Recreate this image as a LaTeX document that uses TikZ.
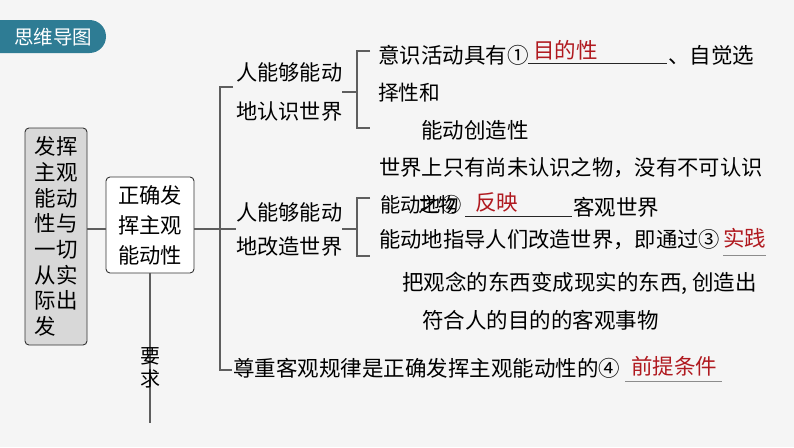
\documentclass[tikz,border=0pt]{standalone}
\usepackage{fontspec}
\newfontfamily\cjk{Noto Sans CJK SC}
\usetikzlibrary{positioning}
\definecolor{tabteal}{HTML}{2E7C94}
\definecolor{ansred}{HTML}{B0191F}
\definecolor{linegray}{HTML}{5E5E5E}
\definecolor{boxgray}{HTML}{D8D8D8}
\definecolor{paper}{HTML}{F5F5F5}

\begin{document}
\begin{tikzpicture}[x=1pt,y=-1pt,
	txt/.style={anchor=west,inner sep=0pt,font=\cjk\fontsize{21.5}{26}\selectfont},
	ans/.style={txt,text=ansred},
	conn/.style={draw=linegray,line width=1.1pt},
	uline/.style={draw=black!85,line width=0.9pt},
	mainbox/.style={draw=black!80,line width=0.9pt,rounded corners=4pt,inner sep=0pt}]
	\fill[paper] (0,0) rectangle (794,447);
	\useasboundingbox (0,0) rectangle (794,447);
	% title tab
	\begin{scope}
		\clip (0,0) rectangle (794,447);
		\fill[tabteal,rounded corners=16.5pt] (-30,20) rectangle (106,53);
	\end{scope}
	\node[inner sep=0pt,text=white,font=\cjk\fontsize{19.5}{22}\selectfont] (title) at (53,37) {思维导图};
	% boxes
	\node[mainbox,fill=boxgray,minimum width=62pt,minimum height=217pt,align=left,
		font=\cjk\fontsize{21.5}{25.7}\selectfont] (main) at (56,236.5)
		{发挥\\主观\\能动\\性与\\一切\\从实\\际出\\发};
	\node[mainbox,fill=white,minimum width=88pt,minimum height=96pt,align=center,
		font=\cjk\fontsize{21.3}{30}\selectfont] (ability) at (150,225)
		{正确发\\挥主观\\能动性};
	\coordinate (reqend) at (150,423);
	\draw[conn] (ability.south) -- (reqend);
	\node[inner sep=0pt,align=center,font=\cjk\fontsize{20}{23.5}\selectfont] (req) at (150,368) {要\\求};
	% branches
	\node[txt,align=left,font=\cjk\fontsize{21.2}{39}\selectfont] (know) at (236,92) {人能够能动\\地认识世界};
	\node[txt,align=left,font=\cjk\fontsize{21.2}{34}\selectfont] (change) at (236,229) {人能够能动\\地改造世界};
	\node[txt] (respect) at (233,368) {尊重客观规律是正确发挥主观能动性的④};
	\node[ans] (premise) at (631,366) {前提条件};
	% know branch
	\node[txt] (k1) at (378,55) {意识活动具有①};
	\node[ans] (purpose) at (533,50) {目的性};
	\node[txt] (k1b) at (668,55) {、自觉选};
	\node[txt,font=\cjk\fontsize{20.7}{24}\selectfont] (k2) at (378,93) {择性和};
	\node[txt] (k3) at (421,130) {能动创造性};
	\node[txt,font=\cjk\fontsize{21.3}{24}\selectfont] (k4) at (379,168) {世界上只有尚未认识之物，没有不可认识};
	% change branch
	\node[txt,font=\cjk\fontsize{20.3}{24}\selectfont] (c1) at (380,205) {能动地②};
	\node[txt,font=\cjk\fontsize{20.3}{24}\selectfont] (c1x) at (418,205) {之物};
	\node[ans] (reflect) at (475,202) {反映};
	\node[txt] (c1b) at (573,207) {客观世界};
	\node[txt,font=\cjk\fontsize{21.3}{24}\selectfont] (c2) at (379,240) {能动地指导人们改造世界，即通过③};
	\node[ans] (practice) at (723,238) {实践};
	\node[txt] (c3) at (402,283) {把观念的东西变成现实的东西, 创造出};
	\node[txt] (c4) at (422,320) {符合人的目的的客观事物};
	% underlines
	\coordinate (u1a) at (528,63); \coordinate (u1b) at (667,63);
	\coordinate (u2a) at (465,216); \coordinate (u2b) at (572,216);
	\coordinate (u3a) at (723,255); \coordinate (u3b) at (766,255);
	\coordinate (u4a) at (625,381); \coordinate (u4b) at (722,381);
	\draw[uline] (u1a) -- (u1b);
	\draw[uline] (u2a) -- (u2b);
	\draw[uline,draw=black!45] (u3a) -- (u3b);
	\draw[uline,draw=black!45] (u4a) -- (u4b);
	% connectors
	\coordinate (mtop) at (220,87);
	\coordinate (mbot) at (220,370);
	\coordinate (ktop) at (357,51);
	\coordinate (kbot) at (357,128);
	\coordinate (ctop) at (357,198);
	\coordinate (cbot) at (357,256);
	\draw[conn] (main.east |- change.west) -- (ability.west |- change.west);
	\draw[conn] (ability.east |- change.west) -- (change.west);
	\draw[conn] ([xshift=13pt]mtop) -- (mtop) -- (mbot) -- ++(12,0);
	\draw[conn] (know.east) -- (know.east -| ktop);
	\draw[conn] ([xshift=13pt]ktop) -- (ktop) -- (kbot) -- ++(13,0);
	\draw[conn] (change.east) -- (change.east -| ctop);
	\draw[conn] ([xshift=13pt]ctop) -- (ctop) -- (cbot) -- ++(13,0);
\end{tikzpicture}
\end{document}
